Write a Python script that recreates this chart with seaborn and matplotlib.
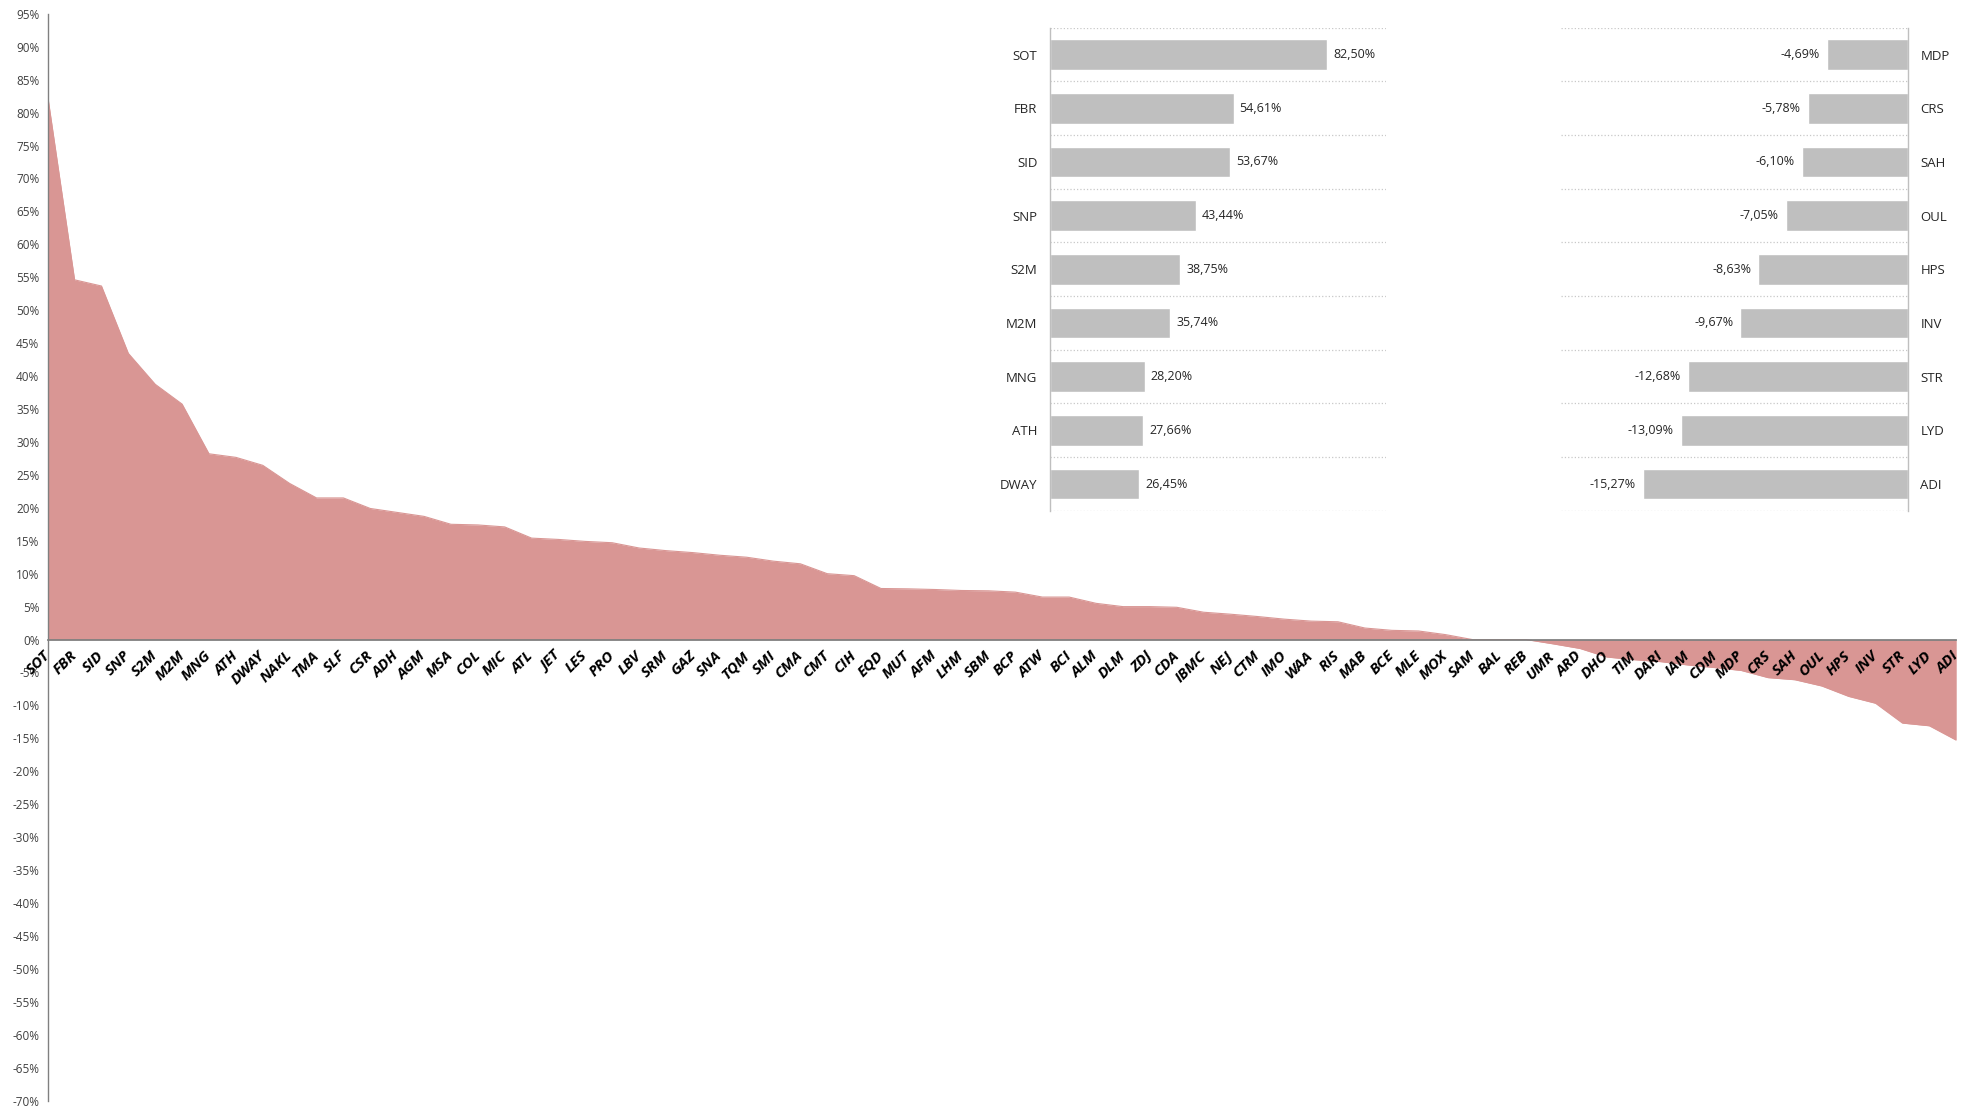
import matplotlib
matplotlib.use("Agg")
import matplotlib.pyplot as plt
import seaborn as sns
import pandas as pd
import numpy as np

categories = ["SOT", "FBR", "SID", "SNP", "S2M", "M2M", "MNG", "ATH", "DWAY", "NAKL",
              "TMA", "SLF", "CSR", "ADH", "AGM", "MSA", "COL", "MIC", "ATL", "JET",
              "LES", "PRO", "LBV", "SRM", "GAZ", "SNA", "TQM", "SMI", "CMA", "CMT",
              "CIH", "EQD", "MUT", "AFM", "LHM", "SBM", "BCP", "ATW", "BCI", "ALM",
              "DLM", "ZDJ", "CDA", "IBMC", "NEJ", "CTM", "IMO", "WAA", "RIS", "MAB",
              "BCE", "MLE", "MOX", "SAM", "BAL", "REB", "UMR", "ARD", "DHO", "TIM",
              "DARI", "IAM", "CDM", "MDP", "CRS", "SAH", "OUL", "HPS", "INV", "STR",
              "LYD", "ADI"]
values = [82.50, 54.61, 53.67, 43.44, 38.75, 35.74, 28.20, 27.66, 26.45, 23.7,
          21.5, 21.5, 19.9, 19.3, 18.7, 17.5, 17.4, 17.1, 15.4, 15.2,
          14.9, 14.7, 13.9, 13.5, 13.2, 12.8, 12.5, 11.9, 11.5, 10.0,
          9.7, 7.75, 7.7, 7.6, 7.45, 7.4, 7.2, 6.45, 6.45, 5.5,
          5.0, 5.0, 4.9, 4.15, 3.85, 3.5, 3.1, 2.8, 2.7, 1.75,
          1.4, 1.3, 0.75, 0.0, 0.0, 0.0, -0.65, -1.35, -2.65, -3.05,
          -3.35, -3.85, -4.25, -4.69, -5.78, -6.10, -7.05, -8.63, -9.67, -12.68,
          -13.09, -15.27]

yticks = list(range(-70, 96, 5))

top_labels = categories[:9]
top_values = values[:9]
bottom_labels = categories[-9:]
bottom_values = values[-9:]

sns.set_theme(style="white")
plt.rcParams["font.family"] = ["Open Sans", "DejaVu Sans"]

fig = plt.figure(figsize=(19.72, 11.11), dpi=100)

# ---------------- main area chart ----------------
ax = fig.add_axes([0.0242, 0.0093, 0.9678, 0.9783])
df = pd.DataFrame({"cat": categories, "val": values})
df["pos"] = np.arange(len(df))
ax.fill_between(df["pos"], df["val"], 0, color="#d99694", linewidth=0, zorder=0.5)
sns.lineplot(data=df, x="pos", y="val", ax=ax, color="#d99694", linewidth=0.8, zorder=0.6)
ax.spines["bottom"].set_position(("data", 0))
ax.set_xlim(0, len(df) - 1)
ax.set_ylim(-70, 95)
ax.set_yticks(yticks)
ax.set_yticklabels([f"{t}%" for t in yticks], fontsize=8.5, color="#404040")
ax.set_xticks(df["pos"])
ax.set_xticklabels(df["cat"], rotation=45, ha="right", va="center",
                   rotation_mode="anchor", fontsize=11, fontweight="bold",
                   fontstyle="italic", color="black")
for s in ["top", "right"]:
    ax.spines[s].set_visible(False)
ax.spines["bottom"].set_color("#808080")
ax.spines["left"].set_color("#808080")
ax.spines["bottom"].set_linewidth(1.3)
ax.spines["left"].set_linewidth(1.0)
ax.spines["bottom"].set_zorder(3)
ax.xaxis.set_zorder(5)
ax.tick_params(axis="y", length=0, pad=6)
ax.tick_params(axis="x", length=0, pad=10)
ax.set_xlabel("")
ax.set_ylabel("")
ax.patch.set_alpha(0)


def fmt(v):
    return f"{v:.2f}%".replace(".", ",")


# ---------------- top inset ----------------
ax1 = fig.add_axes([0.5325, 0.5402, 0.1704, 0.4348])
tdf = pd.DataFrame({"cat": top_labels, "val": top_values})
sns.barplot(data=tdf, x="val", y="cat", orient="h", color="#bfbfbf",
            saturation=1, width=0.57, ax=ax1)
ax1.set_xlim(0, 100)
ax1.set_ylim(8.5, -0.5)
for b in np.arange(-0.5, 9.0, 1.0):
    ax1.axhline(b, color="#c8c8c8", linestyle=":", linewidth=0.9, zorder=0)
for i, v in enumerate(top_values):
    ax1.text(v + 1.8, i, fmt(v), va="center", ha="left", fontsize=9, color="#262626")
ax1.set_xticks([])
ax1.set_xlabel("")
ax1.set_ylabel("")
ax1.tick_params(axis="y", length=0, pad=9, labelsize=9.5, labelcolor="#262626")
for s in ["top", "right", "bottom"]:
    ax1.spines[s].set_visible(False)
ax1.spines["left"].set_color("#bfbfbf")
ax1.spines["left"].set_linewidth(1.0)
ax1.patch.set_alpha(0)

# ---------------- bottom inset ----------------
ax2 = fig.add_axes([0.7915, 0.5402, 0.1760, 0.4348])
bdf = pd.DataFrame({"cat": bottom_labels, "val": bottom_values})
sns.barplot(data=bdf, x="val", y="cat", orient="h", color="#bfbfbf",
            saturation=1, width=0.57, ax=ax2)
ax2.set_xlim(-20, 0)
ax2.set_ylim(8.5, -0.5)
for b in np.arange(-0.5, 9.0, 1.0):
    ax2.axhline(b, color="#c8c8c8", linestyle=":", linewidth=0.9, zorder=0)
for i, v in enumerate(bottom_values):
    ax2.text(v - 0.4, i, fmt(v), va="center", ha="right", fontsize=9, color="#262626")
ax2.yaxis.tick_right()
ax2.set_xticks([])
ax2.set_xlabel("")
ax2.set_ylabel("")
ax2.tick_params(axis="y", length=0, pad=9, labelsize=9.5, labelcolor="#262626")
for s in ["top", "left", "bottom"]:
    ax2.spines[s].set_visible(False)
ax2.spines["right"].set_visible(True)
ax2.spines["right"].set_color("#bfbfbf")
ax2.spines["right"].set_linewidth(1.0)
ax2.patch.set_alpha(0)

fig.savefig("out.png", dpi=100, facecolor="white")
